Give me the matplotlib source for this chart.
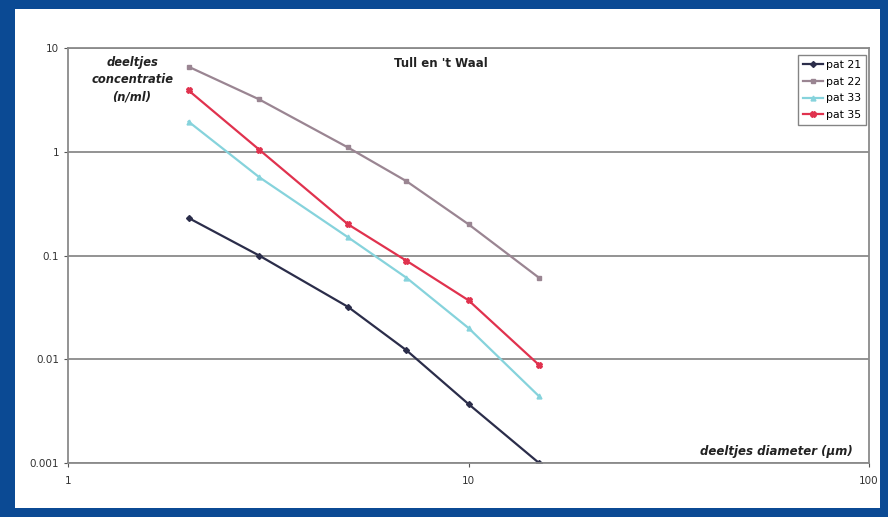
import matplotlib
matplotlib.use('Agg')
import matplotlib.pyplot as plt
from matplotlib.patches import Rectangle
from matplotlib.ticker import FixedLocator, NullLocator

# data (log-log)
diameter = [2, 3, 5, 7, 10, 15]
pat21 = [0.23, 0.10, 0.032, 0.0122, 0.0037, 0.001]
pat22 = [6.6, 3.2, 1.1, 0.52, 0.20, 0.061]
pat33 = [1.95, 0.57, 0.15, 0.061, 0.020, 0.0044]
pat35 = [3.9, 1.05, 0.20, 0.089, 0.037, 0.0088]
y_ticks = [10, 1, 0.1, 0.01, 0.001]
y_labels = ['10', '1', '0.1', '0.01', '0.001']
x_ticks = [1, 10, 100]
x_labels = ['1', '10', '100']

fig = plt.figure(figsize=(8.88, 5.17), dpi=100)
fig.patch.set_facecolor('#0b4a94')
# white panel inside the blue frame
fig.patches.append(Rectangle((15 / 888, 9 / 517), 865 / 888, 499 / 517,
                             transform=fig.transFigure, facecolor='white',
                             edgecolor='none', zorder=-10))

ax = fig.add_axes([68 / 888, 1 - 463 / 517, 801 / 888, 415 / 517])
ax.set_zorder(5)
ax.set_xscale('log')
ax.set_yscale('log')
ax.set_xlim(1, 100)
ax.set_ylim(0.001, 10)

ax.plot(diameter, pat21, color='#2b2d4a', marker='D', markersize=3, lw=1.6, label='pat 21')
ax.plot(diameter, pat22, color='#9a8592', marker='s', markersize=3.5, lw=1.6, label='pat 22')
ax.plot(diameter, pat33, color='#86d3dc', marker='^', markersize=3.5, lw=1.6, label='pat 33')
ax.plot(diameter, pat35, color='#e0324e', marker='X', markersize=4, lw=1.6, label='pat 35')

ax.yaxis.set_major_locator(FixedLocator(y_ticks))
ax.set_yticklabels(y_labels)
ax.xaxis.set_major_locator(FixedLocator(x_ticks))
ax.set_xticklabels(x_labels)
ax.yaxis.set_minor_locator(NullLocator())
ax.xaxis.set_minor_locator(NullLocator())
ax.tick_params(labelsize=7.5, length=3, color='#555555', labelcolor='#333333')
ax.tick_params(axis='x', pad=6)
ax.grid(axis='y', color='#8a8a8a', lw=1.3)
for s in ax.spines.values():
    s.set_color('#8a8a8a')
    s.set_linewidth(1.3)

ax.text(0.465, 0.963, "Tull en 't Waal", transform=ax.transAxes, ha='center', va='center',
        fontsize=8.5, fontweight='bold', color='#222222')
ax.text(0.08, 0.923, 'deeltjes\nconcentratie\n(n/ml)', transform=ax.transAxes, ha='center',
        va='center', fontsize=8.3, fontweight='bold', style='italic', color='#222222',
        linespacing=1.45)
ax.text(0.98, 0.027, 'deeltjes diameter (\u00b5m)', transform=ax.transAxes, ha='right',
        va='center', fontsize=8.5, fontweight='bold', style='italic', color='#222222')

leg = ax.legend(loc='upper right', fontsize=7.8, frameon=True, fancybox=False,
                edgecolor='#666666', handlelength=1.8, handletextpad=0.3, borderpad=0.45,
                labelspacing=0.62, borderaxespad=0, bbox_to_anchor=(0.996, 0.983))
leg.get_frame().set_linewidth(1.0)

plt.savefig('out.png', dpi=100)
plt.close()
